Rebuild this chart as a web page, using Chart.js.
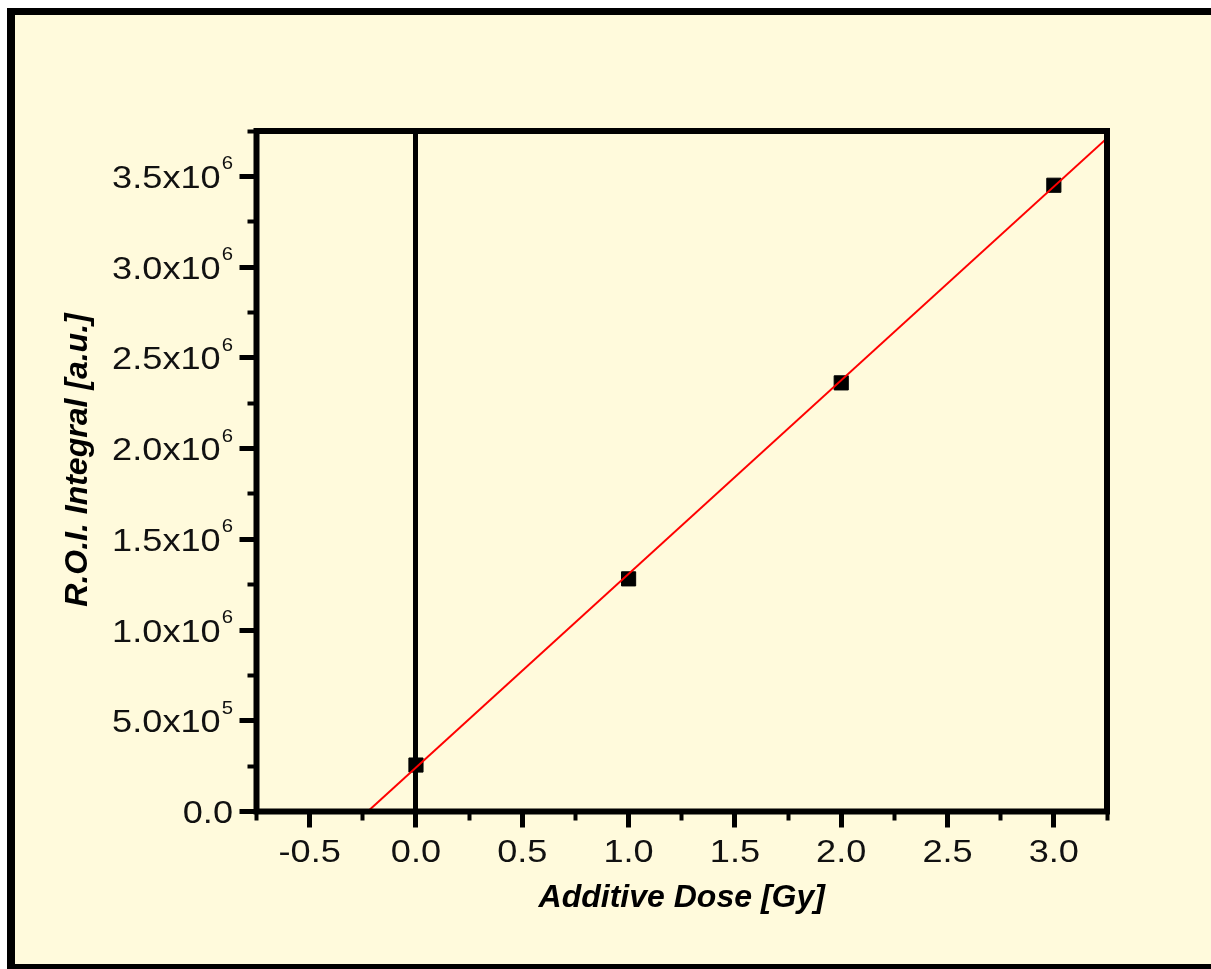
<!DOCTYPE html>
<html>
<head>
<meta charset="utf-8">
<script src="https://cdn.jsdelivr.net/npm/chart.js@4/dist/chart.umd.min.js"></script>
<style>
  html, body { margin: 0; padding: 0; background: #ffffff; }
  canvas { display: block; }
</style>
</head>
<body>
<canvas id="doseChart" width="1211" height="969"></canvas>
<script>
// Measured ROI integrals for each additive dose step
const doseGy = [0, 1, 2, 3];
const roiIntegral = [0.256e6, 1.282e6, 2.362e6, 3.451e6];

// Linear fit, from its dose-axis intercept to the right edge of the plot
const fitDose = [-0.227, 3.25];
const fitIntegral = [0, 3.71e6];

// Axis ticks
const xTickValues = [-0.5, 0, 0.5, 1, 1.5, 2, 2.5, 3];
const xTickLabels = ['-0.5', '0.0', '0.5', '1.0', '1.5', '2.0', '2.5', '3.0'];
const xMinorValues = [-0.75, -0.25, 0.25, 0.75, 1.25, 1.75, 2.25, 2.75, 3.25];
const yTickValues = [0, 0.5e6, 1e6, 1.5e6, 2e6, 2.5e6, 3e6, 3.5e6];
const yTickMantissas = ['0.0', '5.0x10', '1.0x10', '1.5x10', '2.0x10', '2.5x10', '3.0x10', '3.5x10'];
const yTickExponents = ['', '5', '6', '6', '6', '6', '6', '6'];
const yMinorValues = [0.25e6, 0.75e6, 1.25e6, 1.75e6, 2.25e6, 2.75e6, 3.25e6, 3.75e6];

const xTitle = 'Additive Dose [Gy]';
const yTitle = 'R.O.I. Integral [a.u.]';

const FONT = "'Liberation Sans', Arial, sans-serif";
const CREAM = '#fffadc';
const LABEL_STRETCH = 1.13;   // tick labels use a slightly widened face

// Page frame: cream panel with a heavy black border
const framePlugin = {
  id: 'frame',
  beforeDraw(chart) {
    const ctx = chart.ctx;
    ctx.save();
    ctx.fillStyle = '#ffffff';
    ctx.fillRect(0, 0, chart.width, chart.height);
    ctx.fillStyle = '#000000';
    ctx.fillRect(7, 8, chart.width, chart.height);
    ctx.fillStyle = CREAM;
    ctx.fillRect(15, 15, chart.width, 964 - 15);
    ctx.restore();
  }
};

// Box round the plot area
const boxPlugin = {
  id: 'plotBox',
  afterDatasetsDraw(chart) {
    const { ctx, chartArea: a } = chart;
    ctx.save();
    ctx.strokeStyle = '#000000';
    ctx.lineWidth = 6;
    ctx.lineJoin = 'miter';
    ctx.strokeRect(a.left, a.top, a.right - a.left, a.bottom - a.top);
    ctx.restore();
  }
};

function wideText(ctx, text, x, y, align) {
  ctx.save();
  ctx.translate(x, y);
  ctx.scale(LABEL_STRETCH, 1);
  ctx.textAlign = align;
  ctx.fillText(text, 0, 0);
  ctx.restore();
}

// Tick labels (y in scientific notation with a raised exponent) and the rotated y title
const labelPlugin = {
  id: 'tickLabels',
  afterDraw(chart) {
    const ctx = chart.ctx;
    const ys = chart.scales.y;
    const xs = chart.scales.x;
    const rightEdge = 233;
    ctx.save();
    ctx.fillStyle = '#111111';
    ctx.textBaseline = 'alphabetic';

    yTickValues.forEach((v, i) => {
      const py = ys.getPixelForValue(v);
      const exp = yTickExponents[i];
      ctx.font = '18px ' + FONT;
      const expW = exp ? ctx.measureText(exp).width * LABEL_STRETCH : 0;
      if (exp) wideText(ctx, exp, rightEdge - expW, py - 7, 'left');
      ctx.font = '32px ' + FONT;
      wideText(ctx, yTickMantissas[i], rightEdge - (exp ? expW + 1 : 0), py + 11.5, 'right');
    });

    ctx.font = '32px ' + FONT;
    xTickValues.forEach((v, i) => {
      wideText(ctx, xTickLabels[i], xs.getPixelForValue(v), 862, 'center');
    });

    ctx.translate(87, 460);
    ctx.rotate(-Math.PI / 2);
    ctx.font = 'italic bold 32px ' + FONT;
    ctx.textAlign = 'center';
    ctx.fillStyle = '#000000';
    ctx.fillText(yTitle, 0, 0);
    ctx.restore();
  }
};

const tickColor = '#000000';

new Chart(document.getElementById('doseChart'), {
  type: 'scatter',
  data: {
    datasets: [
      {
        label: 'Linear fit',
        data: fitDose.map((x, i) => ({ x, y: fitIntegral[i] })),
        showLine: true,
        borderColor: '#ff0000',
        borderWidth: 2,
        pointRadius: 0,
        fill: false,
        xAxisID: 'x',
        yAxisID: 'y'
      },
      {
        label: 'ROI integral',
        data: doseGy.map((x, i) => ({ x, y: roiIntegral[i] })),
        pointStyle: 'rect',
        pointRadius: 10,
        backgroundColor: '#000000',
        borderColor: '#000000',
        borderWidth: 1,
        xAxisID: 'x',
        yAxisID: 'y'
      }
    ]
  },
  options: {
    responsive: false,
    devicePixelRatio: 1,
    animation: false,
    layout: { padding: { left: 0, top: 131, right: 104, bottom: 0 } },
    plugins: {
      legend: { display: false },
      tooltip: { enabled: false }
    },
    scales: {
      xMinor: {
        type: 'linear', position: 'bottom', weight: 0,
        min: -0.75, max: 3.25,
        afterBuildTicks: s => { s.ticks = xMinorValues.map(value => ({ value })); },
        afterFit: s => { s.height = 0; },
        border: { display: false },
        grid: { drawOnChartArea: false, drawTicks: true, tickLength: 9, tickWidth: 4, tickColor },
        ticks: { display: false }
      },
      x: {
        type: 'linear', position: 'bottom', weight: 1,
        min: -0.75, max: 3.25,
        afterBuildTicks: s => { s.ticks = xTickValues.map(value => ({ value })); },
        afterFit: s => { s.height = 969 - 811.5; },
        border: { display: false },
        grid: {
          drawOnChartArea: true,
          color: c => (c.tick && c.tick.value === 0 ? '#000000' : 'rgba(0,0,0,0)'),
          lineWidth: 5,
          drawTicks: true, tickLength: 16, tickWidth: 5, tickColor
        },
        ticks: { display: false },
        title: {
          display: true,
          text: xTitle,
          color: '#000000',
          font: { family: FONT, size: 32, style: 'italic', weight: 'bold', lineHeight: 1.2 },
          padding: { top: 0, bottom: 52 }
        }
      },
      yMinor: {
        type: 'linear', position: 'left', weight: 0,
        min: 0, max: 3.75e6,
        afterBuildTicks: s => { s.ticks = yMinorValues.map(value => ({ value })); },
        afterFit: s => { s.width = 0; },
        border: { display: false },
        grid: { drawOnChartArea: false, drawTicks: true, tickLength: 9, tickWidth: 4, tickColor },
        ticks: { display: false }
      },
      y: {
        type: 'linear', position: 'left', weight: 1,
        min: 0, max: 3.75e6,
        afterBuildTicks: s => { s.ticks = yTickValues.map(value => ({ value })); },
        afterFit: s => { s.width = 256.5; },
        border: { display: false },
        grid: { drawOnChartArea: false, drawTicks: true, tickLength: 17, tickWidth: 5, tickColor },
        ticks: { display: false }
      }
    }
  },
  plugins: [framePlugin, boxPlugin, labelPlugin]
});
</script>
</body>
</html>
